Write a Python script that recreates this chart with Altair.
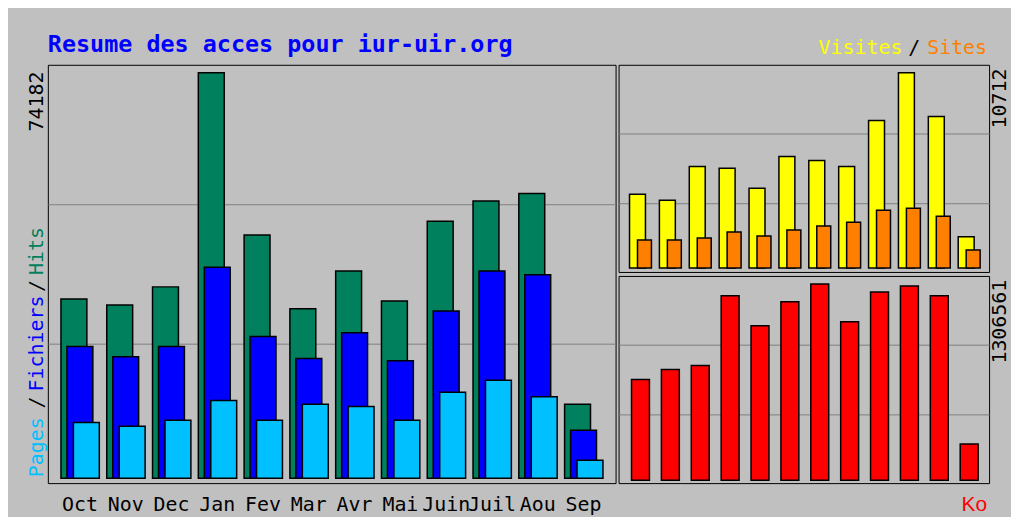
import altair as alt
import pandas as pd

# ---- data ----
months = ["Oct", "Nov", "Dec", "Jan", "Fev", "Mar", "Avr", "Mai", "Juin", "Juil", "Aou", "Sep"]
hits = [32800, 31700, 35000, 74182, 44500, 31000, 37900, 32400, 47000, 50700, 52100, 13500]
files = [24100, 22200, 24100, 38600, 25900, 21900, 26600, 21500, 30600, 37900, 37200, 8750]
pages = [10200, 9480, 10600, 14200, 10600, 13500, 13100, 10600, 15700, 17900, 14900, 3280]
visits = [4040, 3720, 5570, 5470, 4370, 6120, 5900, 5570, 8090, 10712, 8310, 1710]
sites = [1530, 1530, 1640, 1970, 1750, 2080, 2300, 2510, 3170, 3280, 2840, 984]
kbytes = [669900, 736200, 762700, 1227000, 1028000, 1187200, 1306561, 1054600, 1253500, 1293300, 1227000, 240800]

title_text = "Resume des acces pour iur-uir.org"

df_left = pd.DataFrame({"month": months, "hits": hits, "files": files, "pages": pages})
df_right = pd.DataFrame({"month": months, "visits": visits, "sites": sites, "kbytes": kbytes})

MONO = "DejaVu Sans Mono"
BG = "#C0C0C0"
GRID = "#808080"
C_HIT, C_FILE, C_PAGE = "#00805C", "#0000FF", "#00C0FF"
C_VISIT, C_SITE, C_KB = "#FFFF00", "#FF8000", "#FF0000"

LW, LH = 570, 420
RW, RH = 372, 208


def domain(maxv, span_px, top_gap, bottom_gap):
    per = maxv / span_px
    return [-bottom_gap * per, maxv + top_gap * per]


def gridvals(d):
    return [d[0] + (d[1] - d[0]) / 3, d[0] + 2 * (d[1] - d[0]) / 3]


def label(text, color, x, y, angle=0, align="left", size=20, font=MONO, weight="normal"):
    return alt.Chart(pd.DataFrame({"t": [text]})).mark_text(
        color=color, angle=angle, align=align, baseline="middle",
        fontSize=size, font=font, fontWeight=weight
    ).encode(text="t:N", x=alt.value(x), y=alt.value(y))


# ---------- left panel ----------
dl = domain(max(hits), 407, 8, 5)
axl = alt.Axis(values=gridvals(dl), grid=True, gridColor=GRID, gridWidth=1,
               labels=False, ticks=False, domain=False, title=None)
xl = alt.X("month:N", sort=months,
           scale=alt.Scale(paddingInner=0, paddingOuter=0.2),
           axis=alt.Axis(title=None, domain=False, ticks=False, labelAngle=0,
                         labelFont=MONO, labelFontSize=20, labelColor="black",
                         labelPadding=11, labelOverlap=False))


def ybar(field, d, ax):
    return alt.Y(f"{field}:Q", scale=alt.Scale(domain=d, nice=False, zero=False), axis=ax)


base_l = alt.Chart(df_left)
bar_kw = dict(stroke="black", strokeWidth=1.5)
hits_l = base_l.mark_bar(color=C_HIT, width=26, xOffset=-6, **bar_kw).encode(
    x=xl, y=ybar("hits", dl, axl), y2=alt.datum(0))
files_l = base_l.mark_bar(color=C_FILE, width=26, xOffset=0, **bar_kw).encode(
    x=xl, y=ybar("files", dl, axl), y2=alt.datum(0))
pages_l = base_l.mark_bar(color=C_PAGE, width=26, xOffset=6.5, **bar_kw).encode(
    x=xl, y=ybar("pages", dl, axl), y2=alt.datum(0))

left = alt.layer(
    hits_l, files_l, pages_l,
    label(title_text, "#0000FF", 0, -20, size=23.5, weight="bold"),
    label(str(max(hits)), "black", -11, 67, angle=270),
    label("Pages", C_PAGE, -11, 414, angle=270),
    label("/", "black", -11, 345, angle=270),
    label("Fichiers", C_FILE, -11, 328, angle=270),
    label("/", "black", -11, 228, angle=270),
    label("Hits", C_HIT, -11, 211, angle=270),
).properties(width=LW, height=LH)

# ---------- right panels ----------
xr = alt.X("month:N", sort=months, scale=alt.Scale(paddingInner=0, paddingOuter=0.2), axis=None)
dv = domain(max(visits), 196, 8, 4)
dk = domain(max(kbytes), 197, 8, 3)
axv = alt.Axis(values=gridvals(dv), grid=True, gridColor=GRID, gridWidth=1,
               labels=False, ticks=False, domain=False, title=None)
axk = alt.Axis(values=gridvals(dk), grid=True, gridColor=GRID, gridWidth=1,
               labels=False, ticks=False, domain=False, title=None)

base_r = alt.Chart(df_right)
visits_r = base_r.mark_bar(color=C_VISIT, width=16, xOffset=-2, **bar_kw).encode(
    x=xr, y=ybar("visits", dv, axv), y2=alt.datum(0))
sites_r = base_r.mark_bar(color=C_SITE, width=14, xOffset=5, **bar_kw).encode(
    x=xr, y=ybar("sites", dv, axv), y2=alt.datum(0))
top_right = alt.layer(
    visits_r, sites_r,
    label("Visites", C_VISIT, 285, -17, align="right"),
    label("/", "black", 303, -17, align="right"),
    label("Sites", C_SITE, 370, -17, align="right"),
    label(str(max(visits)), "black", 383, 64, angle=270),
).properties(width=RW, height=RH)

kb_r = base_r.mark_bar(color=C_KB, width=18, xOffset=1, **bar_kw).encode(
    x=xr, y=ybar("kbytes", dk, axk), y2=alt.datum(0))
bottom_right = alt.layer(
    kb_r,
    label(str(max(kbytes)), "black", 383, 88, angle=270),
    label("Ko", C_KB, 370, 230, align="right", font="Liberation Sans", size=21),
).properties(width=RW, height=RH)

chart = alt.hconcat(
    left,
    alt.vconcat(top_right, bottom_right, spacing=2),
    spacing=1,
).properties(
    padding={"left": 18, "top": 23, "right": 0, "bottom": 0},
    background=BG,
).configure_view(stroke="black", strokeWidth=1, fill=BG)

chart.save("out.html", embed_options={"renderer": "svg", "actions": False})
